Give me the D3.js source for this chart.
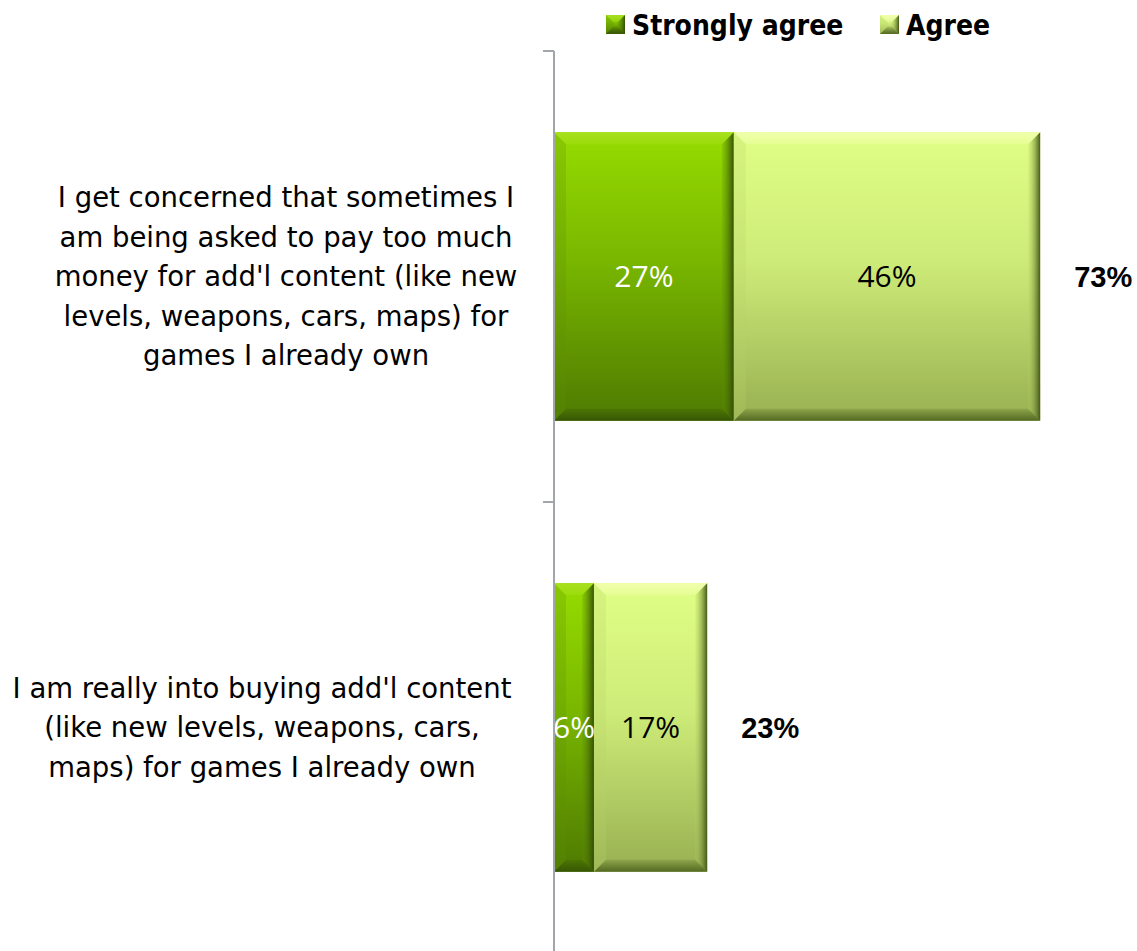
<!DOCTYPE html>
<html>
<head>
<meta charset="utf-8">
<script src="https://cdn.jsdelivr.net/npm/d3@7"></script>
<style>
  html, body { margin: 0; padding: 0; background: #ffffff; }
  svg { display: block; }
</style>
</head>
<body>
<svg id="chart" width="1137" height="951"></svg>
<script>
// Survey statements and their agreement shares (%)
const categories = [
  "I get concerned that sometimes I am being asked to pay too much money for add'l content (like new levels, weapons, cars, maps) for games I already own",
  "I am really into buying add'l content (like new levels, weapons, cars, maps) for games I already own"
];
const categoryLines = [
  ["I get concerned that sometimes I", "am being asked to pay too much", "money for add'l content (like new", "levels, weapons, cars, maps) for", "games I already own"],
  ["I am really into buying add'l content", "(like new levels, weapons, cars,", "maps) for games I already own"]
];
const seriesNames = ["Strongly agree", "Agree"];
const stronglyAgree = [27, 6];
const agree = [46, 17];
const totals = [73, 23];

const svg = d3.select("#chart");
const W = 1137, H = 951;
const plot = { left: 554, top: 51, bottom: 953 };

const x = d3.scaleLinear().domain([0, 100]).range([plot.left, plot.left + 666]);
const y = d3.scaleBand().domain(d3.range(categories.length))
  .range([plot.top, plot.bottom]).paddingInner(0.36).paddingOuter(0.18);
const band = d3.scaleBand().domain(d3.range(categories.length)).range([plot.top, plot.bottom]);

// Gradients for the two series
const defs = svg.append("defs");
const palettes = [
  { id: "g0", stops: [["0%", "#96dc00"], ["45%", "#78b600"], ["100%", "#4e7a02"]],
    light: "#a8e020", dark: "#2f4a06", side: "#5f8f08" },
  { id: "g1", stops: [["0%", "#e0ff86"], ["45%", "#cdeb78"], ["100%", "#98b052"]],
    light: "#f2ffae", dark: "#3c5212", side: "#b8d268" }
];
palettes.forEach(p => {
  const g = defs.append("linearGradient").attr("id", p.id)
    .attr("x1", 0).attr("y1", 0).attr("x2", 0).attr("y2", 1);
  p.stops.forEach(s => g.append("stop").attr("offset", s[0]).attr("stop-color", s[1]));
  const r = defs.append("linearGradient").attr("id", p.id + "r")
    .attr("x1", 0).attr("y1", 0).attr("x2", 1).attr("y2", 0);
  r.append("stop").attr("offset", "0%").attr("stop-color", p.side).attr("stop-opacity", 0.2);
  r.append("stop").attr("offset", "100%").attr("stop-color", p.dark).attr("stop-opacity", 0.95);
  const b = defs.append("linearGradient").attr("id", p.id + "b")
    .attr("x1", 0).attr("y1", 0).attr("x2", 0).attr("y2", 1);
  b.append("stop").attr("offset", "0%").attr("stop-color", p.dark).attr("stop-opacity", 0.15);
  b.append("stop").attr("offset", "100%").attr("stop-color", p.dark).attr("stop-opacity", 0.75);
  const t = defs.append("linearGradient").attr("id", p.id + "t")
    .attr("x1", 0).attr("y1", 0).attr("x2", 0).attr("y2", 1);
  t.append("stop").attr("offset", "0%").attr("stop-color", p.light).attr("stop-opacity", 0.95);
  t.append("stop").attr("offset", "100%").attr("stop-color", p.light).attr("stop-opacity", 0.35);
});
defs.append("clipPath").attr("id", "plotClip")
  .append("rect").attr("x", plot.left + 1).attr("y", 0).attr("width", W - plot.left).attr("height", H);

// Bevelled bar drawn as a gradient block with shaded edges
function bevelBar(g, x0, y0, w, h, p) {
  const e = Math.min(12, w / 2.5);
  g.append("rect").attr("x", x0).attr("y", y0).attr("width", w).attr("height", h)
    .attr("fill", `url(#${p.id})`);
  g.append("path").attr("fill", `url(#${p.id}t)`)
    .attr("d", `M${x0},${y0}H${x0 + w}L${x0 + w - e},${y0 + e}H${x0 + e}Z`);
  g.append("path").attr("fill", `url(#${p.id}r)`)
    .attr("d", `M${x0 + w},${y0}V${y0 + h}L${x0 + w - e},${y0 + h - e}V${y0 + e}Z`);
  g.append("path").attr("fill", `url(#${p.id}b)`)
    .attr("d", `M${x0},${y0 + h}H${x0 + w}L${x0 + w - e},${y0 + h - e}H${x0 + e}Z`);
  g.append("path").attr("fill", p.side).attr("fill-opacity", 0.25)
    .attr("d", `M${x0},${y0}V${y0 + h}L${x0 + e},${y0 + h - e}V${y0 + e}Z`);
}

const stacks = categories.map((c, i) => [
  { s: 0, v0: 0, v1: stronglyAgree[i] },
  { s: 1, v0: stronglyAgree[i], v1: stronglyAgree[i] + agree[i] }
]);

const barsG = svg.append("g");
stacks.forEach((segs, i) => {
  segs.forEach(d => {
    bevelBar(barsG, x(d.v0), y(i), x(d.v1) - x(d.v0), y.bandwidth(), palettes[d.s]);
  });
});

// Axis line with category ticks
const axisG = svg.append("g");
axisG.append("line").attr("x1", plot.left).attr("x2", plot.left)
  .attr("y1", plot.top).attr("y2", plot.bottom)
  .attr("stroke", "#a2a6aa").attr("stroke-width", 2);
d3.range(categories.length + 1).forEach(k => {
  const yy = k < categories.length ? band(k) : plot.bottom;
  axisG.append("line").attr("x1", plot.left - 11).attr("x2", plot.left)
    .attr("y1", yy).attr("y2", yy).attr("stroke", "#a2a6aa").attr("stroke-width", 2);
});

// Segment value labels
const valG = svg.append("g").attr("clip-path", "url(#plotClip)");
stacks.forEach((segs, i) => {
  segs.forEach(d => {
    valG.append("text")
      .attr("x", (x(d.v0) + x(d.v1)) / 2)
      .attr("y", y(i) + y.bandwidth() / 2)
      .attr("dy", "0.36em")
      .attr("text-anchor", "middle")
      .attr("font-family", "'Open Sans', 'Noto Sans', sans-serif")
      .attr("font-size", 30)
      .attr("fill", d.s === 0 ? "#ffffff" : "#000000")
      .text((d.v1 - d.v0) + "%");
  });
});

// Totals to the right of each bar
totals.forEach((t, i) => {
  svg.append("text")
    .attr("x", x(t) + 63)
    .attr("y", y(i) + y.bandwidth() / 2)
    .attr("dy", "0.36em")
    .attr("text-anchor", "middle")
    .attr("font-family", "'Liberation Sans', Arial, sans-serif")
    .attr("font-weight", "bold")
    .attr("font-size", 29)
    .attr("fill", "#000")
    .text(t + "%");
});

// Category labels, centred on each band
const labelCenterX = [286, 262];
const lineH = 39.5;
categoryLines.forEach((lines, i) => {
  const cy = band(i) + band.bandwidth() / 2;
  const t = svg.append("text")
    .attr("text-anchor", "middle")
    .attr("font-family", "'DejaVu Sans', sans-serif")
    .attr("font-size", 27.5)
    .attr("fill", "#000");
  lines.forEach((ln, j) => {
    t.append("tspan")
      .attr("x", labelCenterX[i])
      .attr("y", cy + (j - (lines.length - 1) / 2) * lineH)
      .attr("dy", "0.36em")
      .text(ln);
  });
});

// Legend
const legend = svg.append("g");
const legendItems = [{ name: seriesNames[0], x: 606 }, { name: seriesNames[1], x: 880 }];
legendItems.forEach((it, k) => {
  const p = palettes[k];
  const sq = legend.append("g");
  bevelBar(sq, it.x, 15, 19, 19, p);
  legend.append("text")
    .attr("x", it.x + 26).attr("y", 25).attr("dy", "0.36em")
    .attr("font-family", "'DejaVu Sans Condensed', 'DejaVu Sans', sans-serif")
    .attr("font-stretch", "condensed")
    .attr("font-weight", "bold")
    .attr("font-size", 28)
    .attr("fill", "#000")
    .text(it.name);
});
</script>
</body>
</html>
